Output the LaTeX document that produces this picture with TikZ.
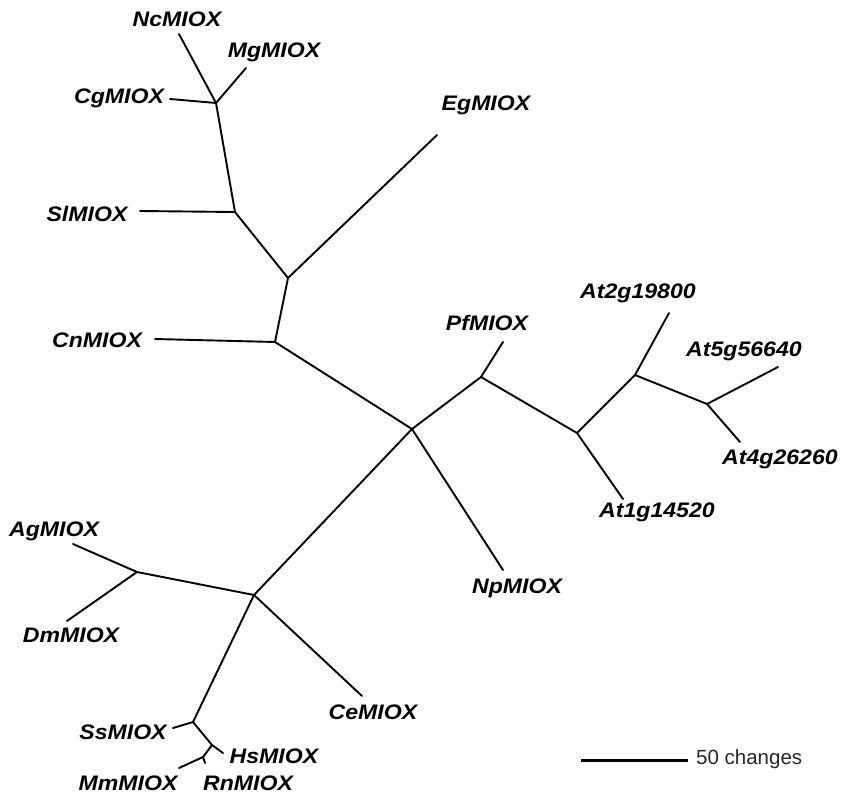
\documentclass[tikz,border=0pt]{standalone}
\usepackage{fontspec}
\newfontfamily\labfont[FakeStretch=1.1]{Liberation Sans}
\newfontfamily\scalefont{Liberation Sans}
\begin{document}
\begin{tikzpicture}[x=1pt,y=-1pt,
  branch/.style={line width=1.9pt,line cap=round,line join=round},
  taxon/.style={inner sep=0pt,font=\labfont\fontsize{21}{24}\selectfont\bfseries\itshape},
  scalelabel/.style={inner sep=0pt,text=black!85,font=\scalefont\fontsize{20.5}{24}\selectfont}]
\useasboundingbox (0,0) rectangle (843,795);
% junctions
\coordinate (C) at (412,429);
\coordinate (N1) at (275,342);
\coordinate (N2) at (288,278);
\coordinate (N3) at (235,212);
\coordinate (N4) at (216,103);
\coordinate (N5) at (481,377);
\coordinate (N6) at (577,433);
\coordinate (N7) at (635,375);
\coordinate (N8) at (707,404);
\coordinate (N9) at (254,595);
\coordinate (N10) at (137,572);
\coordinate (N11) at (193,722);
\coordinate (N12) at (212,745);
\coordinate (N13) at (203,757);
% tips
\coordinate (tCn) at (155,339);
\coordinate (tEg) at (437,135);
\coordinate (tSl) at (140,211);
\coordinate (tCg) at (170,99);
\coordinate (tNc) at (179,34);
\coordinate (tMg) at (246,68);
\coordinate (tPf) at (503,342);
\coordinate (tAt1) at (623,499);
\coordinate (tAt2) at (669,313);
\coordinate (tAt5) at (778,367);
\coordinate (tAt4) at (740,442);
\coordinate (tNp) at (503,570);
\coordinate (tAg) at (73,544);
\coordinate (tDm) at (67,621);
\coordinate (tCe) at (362,696);
\coordinate (tSs) at (173,728);
\coordinate (tHs) at (223,753);
\coordinate (tMm) at (179,768);
\coordinate (tRn) at (205,763);
% labels
\node[taxon] (lNc) at (177,19) {NcMIOX};
\node[taxon] (lMg) at (274,52) {MgMIOX};
\node[taxon] (lCg) at (119,98) {CgMIOX};
\node[taxon] (lEg) at (486,105) {EgMIOX};
\node[taxon] (lSl) at (87,214) {SlMIOX};
\node[taxon] (lCn) at (97,340) {CnMIOX};
\node[taxon] (lPf) at (487,323) {PfMIOX};
\node[taxon] (lAt2) at (638,293) {At2g19800};
\node[taxon] (lAt5) at (744,351) {At5g56640};
\node[taxon] (lAt4) at (780,459) {At4g26260};
\node[taxon] (lAt1) at (657,512) {At1g14520};
\node[taxon] (lNp) at (517,588) {NpMIOX};
\node[taxon] (lAg) at (54,531) {AgMIOX};
\node[taxon] (lDm) at (71,635) {DmMIOX};
\node[taxon] (lCe) at (373,712) {CeMIOX};
\node[taxon] (lSs) at (123,732) {SsMIOX};
\node[taxon] (lHs) at (274,756) {HsMIOX};
\node[taxon] (lMm) at (128,783) {MmMIOX};
\node[taxon] (lRn) at (248,783) {RnMIOX};
% branches
\draw[branch] (C) -- (N1);
\draw[branch] (N1) -- (tCn);
\draw[branch] (N1) -- (N2);
\draw[branch] (N2) -- (tEg);
\draw[branch] (N2) -- (N3);
\draw[branch] (N3) -- (tSl);
\draw[branch] (N3) -- (N4);
\draw[branch] (N4) -- (tCg);
\draw[branch] (N4) -- (tNc);
\draw[branch] (N4) -- (tMg);
\draw[branch] (C) -- (N5);
\draw[branch] (N5) -- (tPf);
\draw[branch] (N5) -- (N6);
\draw[branch] (N6) -- (tAt1);
\draw[branch] (N6) -- (N7);
\draw[branch] (N7) -- (tAt2);
\draw[branch] (N7) -- (N8);
\draw[branch] (N8) -- (tAt5);
\draw[branch] (N8) -- (tAt4);
\draw[branch] (C) -- (tNp);
\draw[branch] (C) -- (N9);
\draw[branch] (N9) -- (N10);
\draw[branch] (N10) -- (tAg);
\draw[branch] (N10) -- (tDm);
\draw[branch] (N9) -- (tCe);
\draw[branch] (N9) -- (N11);
\draw[branch] (N11) -- (tSs);
\draw[branch] (N11) -- (N12);
\draw[branch] (N12) -- (tHs);
\draw[branch] (N12) -- (N13);
\draw[branch] (N13) -- (tMm);
\draw[branch] (N13) -- (tRn);
% scale bar
\coordinate (sb1) at (581,760);
\coordinate (sb2) at (688,760);
\draw[line width=3pt] (sb1) -- (sb2);
\node[scalelabel,anchor=west] (sbl) at (696,759) {50 changes};
\end{tikzpicture}
\end{document}
